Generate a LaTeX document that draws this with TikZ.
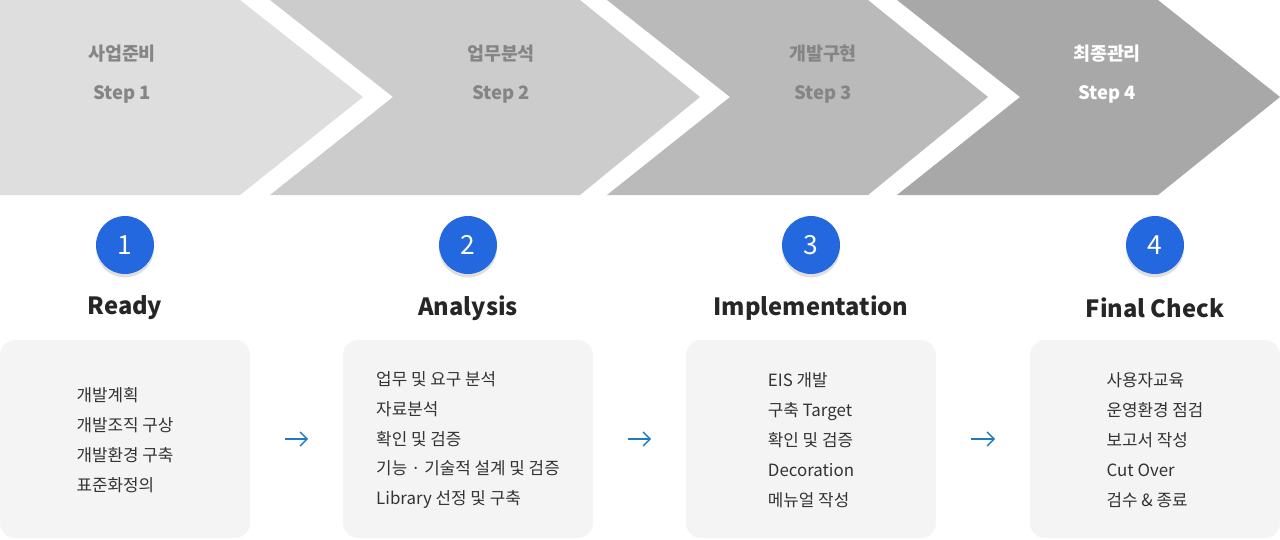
\documentclass[tikz,border=0pt]{standalone}
\usepackage{fontspec}
\setmainfont{Noto Sans CJK KR}
\usetikzlibrary{positioning, arrows.meta, shadows}
\definecolor{chevA}{HTML}{DEDEDE}
\definecolor{chevB}{HTML}{CCCCCC}
\definecolor{chevC}{HTML}{BABABA}
\definecolor{chevD}{HTML}{A8A8A8}
\definecolor{stepgray}{HTML}{858585}
\definecolor{numblue}{HTML}{2468E0}
\definecolor{boxgray}{HTML}{F4F4F4}
\definecolor{arrowblue}{HTML}{1F7BC1}

\begin{document}
\begin{tikzpicture}[x=0.02cm, y=-0.02cm,
    steptext/.style={align=center, font=\fontsize{10.5}{22}\selectfont\bfseries, text=stepgray},
    numcircle/.style={circle, fill=numblue, minimum size=1.16cm, text=white, font=\fontsize{15}{15}\selectfont, drop shadow={opacity=0.25, shadow xshift=0pt, shadow yshift=-2pt}},
    phasetitle/.style={font=\fontsize{13.5}{14}\selectfont\bfseries, text=black!85},
    taskbox/.style={rectangle, rounded corners=0.3cm, fill=boxgray, minimum width=5cm, minimum height=3.96cm},
    tasktext/.style={align=left, font=\fontsize{9.6}{17}\selectfont, text=black!80},
    arrow/.style={-{Straight Barb[length=4pt,width=8pt]}, thick, arrowblue, shorten <=0.69cm, shorten >=0.69cm}
]
\useasboundingbox (0,0) rectangle (1280,539);

% Chevrons
\fill[chevA] (0,0) -- (240,0) -- (363,97) -- (240,195) -- (0,195) -- cycle;
\fill[chevB] (270,0) -- (580,0) -- (700,97) -- (580,195) -- (270,195) -- (393,97) -- cycle;
\fill[chevC] (607,0) -- (868,0) -- (988,97) -- (868,195) -- (607,195) -- (730,97) -- cycle;
\fill[chevD] (897,0) -- (1158,0) -- (1280,97) -- (1158,195) -- (897,195) -- (1020,97) -- cycle;

\node[steptext] (s1) at (122,74) {사업준비\\Step 1};
\node[steptext] (s2) at (501,74) {업무분석\\Step 2};
\node[steptext] (s3) at (823,74) {개발구현\\Step 3};
\node[steptext, text=white] (s4) at (1107,74) {최종관리\\Step 4};

% Phases
\node[numcircle] (n1) at (125,245) {1};
\node[numcircle] (n2) at (468,245) {2};
\node[numcircle] (n3) at (811,245) {3};
\node[numcircle] (n4) at (1155,245) {4};

\node[phasetitle] (t1) at (125,308) {Ready};
\node[phasetitle] (t2) at (468,308) {Analysis};
\node[phasetitle] (t3) at (811,308) {Implementation};
\node[phasetitle] (t4) at (1155,308) {Final Check};

% Task boxes
\node[taskbox] (b1) at (125,439) {};
\node[taskbox] (b2) at (468,439) {};
\node[taskbox] (b3) at (811,439) {};
\node[taskbox] (b4) at (1155,439) {};

\node[tasktext] (x1) at (125,440) {개발계획\\개발조직 구상\\개발환경 구축\\표준화정의};
\node[tasktext] (x2) at (468,440) {업무 및 요구 분석\\자료분석\\확인 및 검증\\기능 · 기술적 설계 및 검증\\Library 선정 및 구축};
\node[tasktext] (x3) at (811,440) {EIS 개발\\구축 Target\\확인 및 검증\\Decoration\\메뉴얼 작성};
\node[tasktext] (x4) at (1155,440) {사용자교육\\운영환경 점검\\보고서 작성\\Cut Over\\검수 \& 종료};

% Arrows
\draw[arrow] (b1.east) -- (b2.west);
\draw[arrow] (b2.east) -- (b3.west);
\draw[arrow] (b3.east) -- (b4.west);

\end{tikzpicture}
\end{document}
